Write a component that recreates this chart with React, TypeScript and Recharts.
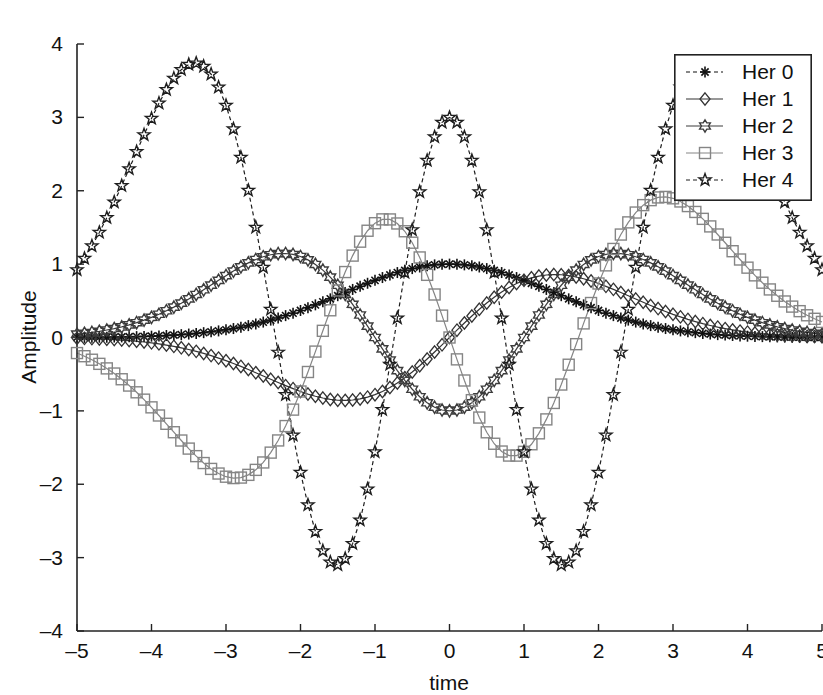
import React from 'react';
import { LineChart, Line, XAxis, YAxis, Legend } from 'recharts';

const TITLE = 'First five members of the Hermite family';
const X_LABEL = 'time';
const Y_LABEL = 'Amplitude';
const SERIES_NAMES = ['Her 0', 'Her 1', 'Her 2', 'Her 3', 'Her 4'];
const X_TICKS = [-5, -4, -3, -2, -1, 0, 1, 2, 3, 4, 5];
const Y_TICKS = [-4, -3, -2, -1, 0, 1, 2, 3, 4];

const TIME = [
  -5, -4.9, -4.8, -4.7, -4.6, -4.5, -4.4, -4.3, -4.2, -4.1,
  -4, -3.9, -3.8, -3.7, -3.6, -3.5, -3.4, -3.3, -3.2, -3.1,
  -3, -2.9, -2.8, -2.7, -2.6, -2.5, -2.4, -2.3, -2.2, -2.1,
  -2, -1.9, -1.8, -1.7, -1.6, -1.5, -1.4, -1.3, -1.2, -1.1,
  -1, -0.9, -0.8, -0.7, -0.6, -0.5, -0.4, -0.3, -0.2, -0.1,
  0,
  0.1, 0.2, 0.3, 0.4, 0.5, 0.6, 0.7, 0.8, 0.9, 1,
  1.1, 1.2, 1.3, 1.4, 1.5, 1.6, 1.7, 1.8, 1.9, 2,
  2.1, 2.2, 2.3, 2.4, 2.5, 2.6, 2.7, 2.8, 2.9, 3,
  3.1, 3.2, 3.3, 3.4, 3.5, 3.6, 3.7, 3.8, 3.9, 4,
  4.1, 4.2, 4.3, 4.4, 4.5, 4.6, 4.7, 4.8, 4.9, 5,
];

const HER0 = [
  0.002, 0.002, 0.003, 0.004, 0.005, 0.006, 0.008, 0.010, 0.012, 0.015,
  0.018, 0.022, 0.027, 0.033, 0.039, 0.047, 0.056, 0.066, 0.077, 0.090,
  0.105, 0.122, 0.141, 0.162, 0.185, 0.210, 0.237, 0.266, 0.298, 0.332,
  0.368, 0.406, 0.445, 0.486, 0.527, 0.570, 0.613, 0.655, 0.698, 0.739,
  0.779, 0.817, 0.852, 0.885, 0.914, 0.939, 0.961, 0.978, 0.990, 0.998,
  1.000,
  0.998, 0.990, 0.978, 0.961, 0.939, 0.914, 0.885, 0.852, 0.817, 0.779,
  0.739, 0.698, 0.655, 0.613, 0.570, 0.527, 0.486, 0.445, 0.406, 0.368,
  0.332, 0.298, 0.266, 0.237, 0.210, 0.185, 0.162, 0.141, 0.122, 0.105,
  0.090, 0.077, 0.066, 0.056, 0.047, 0.039, 0.033, 0.027, 0.022, 0.018,
  0.015, 0.012, 0.010, 0.008, 0.006, 0.005, 0.004, 0.003, 0.002, 0.002,
];

const HER1 = [
  -0.010, -0.012, -0.015, -0.019, -0.023, -0.028, -0.035, -0.042, -0.051, -0.061,
  -0.073, -0.087, -0.103, -0.121, -0.141, -0.164, -0.189, -0.217, -0.247, -0.281,
  -0.316, -0.354, -0.394, -0.436, -0.480, -0.524, -0.569, -0.613, -0.656, -0.697,
  -0.736, -0.771, -0.801, -0.825, -0.844, -0.855, -0.858, -0.852, -0.837, -0.813,
  -0.779, -0.735, -0.682, -0.619, -0.548, -0.470, -0.384, -0.293, -0.198, -0.100,
  0.000,
  0.100, 0.198, 0.293, 0.384, 0.470, 0.548, 0.619, 0.682, 0.735, 0.779,
  0.813, 0.837, 0.852, 0.858, 0.855, 0.844, 0.825, 0.801, 0.771, 0.736,
  0.697, 0.656, 0.613, 0.569, 0.524, 0.480, 0.436, 0.394, 0.354, 0.316,
  0.281, 0.247, 0.217, 0.189, 0.164, 0.141, 0.121, 0.103, 0.087, 0.073,
  0.061, 0.051, 0.042, 0.035, 0.028, 0.023, 0.019, 0.015, 0.012, 0.010,
];

const HER2 = [
  0.046, 0.057, 0.069, 0.084, 0.102, 0.122, 0.145, 0.172, 0.202, 0.237,
  0.275, 0.317, 0.364, 0.414, 0.468, 0.526, 0.587, 0.650, 0.714, 0.779,
  0.843, 0.905, 0.963, 1.017, 1.063, 1.100, 1.128, 1.143, 1.145, 1.132,
  1.104, 1.058, 0.996, 0.918, 0.823, 0.712, 0.588, 0.452, 0.307, 0.155,
  0.000, -0.155, -0.307, -0.451, -0.585, -0.705, -0.807, -0.890, -0.950, -0.988,
  -1.000,
  -0.988, -0.950, -0.890, -0.807, -0.705, -0.585, -0.451, -0.307, -0.155, 0.000,
  0.155, 0.307, 0.452, 0.588, 0.712, 0.823, 0.918, 0.996, 1.058, 1.104,
  1.132, 1.145, 1.143, 1.128, 1.100, 1.063, 1.017, 0.963, 0.905, 0.843,
  0.779, 0.714, 0.650, 0.587, 0.526, 0.468, 0.414, 0.364, 0.317, 0.275,
  0.237, 0.202, 0.172, 0.145, 0.122, 0.102, 0.084, 0.069, 0.057, 0.046,
];

const HER3 = [
  -0.212, -0.255, -0.303, -0.359, -0.421, -0.491, -0.569, -0.655, -0.747, -0.847,
  -0.952, -1.063, -1.176, -1.291, -1.404, -1.514, -1.617, -1.711, -1.791, -1.854,
  -1.897, -1.916, -1.909, -1.872, -1.804, -1.703, -1.569, -1.403, -1.207, -0.983,
  -0.736, -0.470, -0.192, 0.091, 0.371, 0.641, 0.892, 1.116, 1.306, 1.455,
  1.558, 1.610, 1.609, 1.554, 1.448, 1.292, 1.091, 0.854, 0.586, 0.298,
  0.000,
  -0.298, -0.586, -0.854, -1.091, -1.292, -1.448, -1.554, -1.609, -1.610, -1.558,
  -1.455, -1.306, -1.116, -0.892, -0.641, -0.371, -0.091, 0.192, 0.470, 0.736,
  0.983, 1.207, 1.403, 1.569, 1.703, 1.804, 1.872, 1.909, 1.916, 1.897,
  1.854, 1.791, 1.711, 1.617, 1.514, 1.404, 1.291, 1.176, 1.063, 0.952,
  0.847, 0.747, 0.655, 0.569, 0.491, 0.421, 0.359, 0.303, 0.255, 0.212,
];

const HER4 = [
  0.923, 1.077, 1.247, 1.432, 1.632, 1.846, 2.069, 2.299, 2.532, 2.763,
  2.985, 3.193, 3.378, 3.533, 3.650, 3.721, 3.739, 3.696, 3.588, 3.411,
  3.162, 2.842, 2.455, 2.005, 1.502, 0.956, 0.383, -0.201, -0.780, -1.332,
  -1.839, -2.282, -2.644, -2.907, -3.062, -3.098, -3.013, -2.808, -2.488, -2.066,
  -1.558, -0.983, -0.367, 0.265, 0.886, 1.468, 1.985, 2.413, 2.734, 2.933,
  3.000,
  2.933, 2.734, 2.413, 1.985, 1.468, 0.886, 0.265, -0.367, -0.983, -1.558,
  -2.066, -2.488, -2.808, -3.013, -3.098, -3.062, -2.907, -2.644, -2.282, -1.839,
  -1.332, -0.780, -0.201, 0.383, 0.956, 1.502, 2.005, 2.455, 2.842, 3.162,
  3.411, 3.588, 3.696, 3.739, 3.721, 3.650, 3.533, 3.378, 3.193, 2.985,
  2.763, 2.532, 2.299, 2.069, 1.846, 1.632, 1.432, 1.247, 1.077, 0.923,
];

const data = TIME.map((t, i) => ({
  t,
  h0: HER0[i],
  h1: HER1[i],
  h2: HER2[i],
  h3: HER3[i],
  h4: HER4[i],
}));

const FONT = '"Liberation Sans", Arial, Helvetica, sans-serif';
const AXIS_COLOR = '#222222';
const TICK_FONT = 21;

type Shape = 'asterisk' | 'diamond' | 'hexagram' | 'square' | 'pentagram';

const STYLES: { key: string; shape: Shape; color: string; dash?: string; mw: number }[] = [
  { key: 'h0', shape: 'asterisk', color: '#111111', dash: '4 3', mw: 1.6 },
  { key: 'h1', shape: 'diamond', color: '#333333', mw: 1.3 },
  { key: 'h2', shape: 'hexagram', color: '#3c3c3c', mw: 1.4 },
  { key: 'h3', shape: 'square', color: '#858585', mw: 1.4 },
  { key: 'h4', shape: 'pentagram', color: '#1e1e1e', dash: '4 3', mw: 1.4 },
];

function starPoints(cx: number, cy: number, n: number, ro: number, ri: number) {
  const pts: string[] = [];
  for (let k = 0; k < n * 2; k++) {
    const r = k % 2 === 0 ? ro : ri;
    const a = -Math.PI / 2 + (k * Math.PI) / n;
    pts.push(`${(cx + r * Math.cos(a)).toFixed(2)},${(cy + r * Math.sin(a)).toFixed(2)}`);
  }
  return pts.join(' ');
}

function Marker({ shape, cx, cy, color, w }: { shape: Shape; cx: number; cy: number; color: string; w: number }) {
  const common = { fill: 'none', stroke: color, strokeWidth: w };
  switch (shape) {
    case 'asterisk':
      return (
        <g stroke={color} strokeWidth={w}>
          <line x1={cx - 5} y1={cy} x2={cx + 5} y2={cy} />
          <line x1={cx} y1={cy - 5.5} x2={cx} y2={cy + 5.5} />
          <line x1={cx - 3.6} y1={cy - 3.6} x2={cx + 3.6} y2={cy + 3.6} />
          <line x1={cx - 3.6} y1={cy + 3.6} x2={cx + 3.6} y2={cy - 3.6} />
        </g>
      );
    case 'diamond':
      return <polygon {...common} points={`${cx},${cy - 6.2} ${cx + 5},${cy} ${cx},${cy + 6.2} ${cx - 5},${cy}`} />;
    case 'hexagram':
      return <polygon {...common} points={starPoints(cx, cy, 6, 6.2, 3.6)} />;
    case 'square':
      return <rect {...common} x={cx - 5.5} y={cy - 5.5} width={11} height={11} />;
    case 'pentagram':
    default:
      return <polygon {...common} points={starPoints(cx, cy, 5, 6.4, 2.6)} />;
  }
}

function makeDot(shape: Shape, color: string, w: number) {
  return (props: any) => {
    const { cx, cy, index } = props;
    if (cx == null || cy == null) return <g key={`e-${index}`} />;
    return (
      <g key={`m-${shape}-${index}`}>
        <Marker shape={shape} cx={cx} cy={cy} color={color} w={w} />
      </g>
    );
  };
}

const fmt = (v: number) => (v < 0 ? '\u2013' + Math.abs(v) : String(v));

function BottomTick(props: any) {
  const { x, y, payload } = props;
  return (
    <g>
      <line x1={x} y1={y} x2={x} y2={y - 7} stroke={AXIS_COLOR} strokeWidth={1.4} />
      <text x={x} y={y + 27} textAnchor="middle" fontSize={TICK_FONT} fontFamily={FONT} fill="#111">
        {fmt(payload.value)}
      </text>
    </g>
  );
}

function TopTick(props: any) {
  const { x, y } = props;
  return <line x1={x} y1={y} x2={x} y2={y + 7} stroke={AXIS_COLOR} strokeWidth={1.4} />;
}

function LeftTick(props: any) {
  const { x, y, payload } = props;
  return (
    <g>
      <line x1={x} y1={y} x2={x + 7} y2={y} stroke={AXIS_COLOR} strokeWidth={1.4} />
      <text x={x - 14} y={y + 7} textAnchor="end" fontSize={TICK_FONT} fontFamily={FONT} fill="#111">
        {fmt(payload.value)}
      </text>
    </g>
  );
}

function RightTick(props: any) {
  const { x, y } = props;
  return <line x1={x} y1={y} x2={x - 7} y2={y} stroke={AXIS_COLOR} strokeWidth={1.4} />;
}

function LegendBox() {
  const rowH = 27;
  return (
    <svg width={138} height={147} style={{ display: 'block' }}>
      <rect x={0.8} y={0.8} width={136.4} height={145.4} fill="#fff" stroke={AXIS_COLOR} strokeWidth={1.6} />
      {STYLES.map((s, i) => {
        const cy = 18 + i * rowH;
        return (
          <g key={s.key}>
            <line x1={12} y1={cy} x2={49} y2={cy} stroke={s.color} strokeWidth={1.2} strokeDasharray={s.dash} />
            <Marker shape={s.shape} cx={31} cy={cy} color={s.color} w={s.mw} />
            <text x={68} y={cy + 7} fontSize={21} fontFamily={FONT} fill="#111">
              {SERIES_NAMES[i]}
            </text>
          </g>
        );
      })}
    </svg>
  );
}

export default function App() {
  return (
    <div style={{ position: 'absolute', left: 0, top: 0, background: '#fff' }}>
      <LineChart
        width={823}
        height={695}
        data={data}
        margin={{ top: 44, right: 1, bottom: 0, left: 0 }}
      >
        <XAxis
          xAxisId="b"
          dataKey="t"
          type="number"
          domain={[-5, 5]}
          ticks={X_TICKS}
          height={64}
          tickSize={0}
          tickMargin={0}
          tickLine={false}
          tick={<BottomTick />}
          axisLine={{ stroke: AXIS_COLOR, strokeWidth: 1.6 }}
          interval={0}
          label={() => (
            <text x={449} y={690} textAnchor="middle" fontSize={21} fontFamily={FONT} fill="#111">
              {X_LABEL}
            </text>
          )}
        />
        <XAxis
          xAxisId="top"
          orientation="top"
          dataKey="t"
          type="number"
          domain={[-5, 5]}
          ticks={X_TICKS}
          height={0}
          tickSize={0}
          tickMargin={0}
          tickLine={false}
          tick={<TopTick />}
          axisLine={{ stroke: AXIS_COLOR, strokeWidth: 1.6 }}
          interval={0}
          label={() => (
            <text x={442} y={23} textAnchor="middle" fontSize={21} fontFamily={FONT} fill="#111">
              {TITLE}
            </text>
          )}
        />
        <YAxis
          yAxisId="l"
          type="number"
          domain={[-4, 4]}
          ticks={Y_TICKS}
          width={77}
          tickSize={0}
          tickMargin={0}
          tickLine={false}
          tick={<LeftTick />}
          axisLine={{ stroke: AXIS_COLOR, strokeWidth: 1.6 }}
          interval={0}
          label={() => (
            <text
              x={28}
              y={337}
              transform="rotate(-90 28 337)"
              textAnchor="middle"
              dominantBaseline="central"
              fontSize={21}
              fontFamily={FONT}
              fill="#111"
            >
              {Y_LABEL}
            </text>
          )}
        />
        <YAxis
          yAxisId="r"
          orientation="right"
          type="number"
          domain={[-4, 4]}
          ticks={Y_TICKS}
          width={0}
          tickSize={0}
          tickMargin={0}
          tickLine={false}
          tick={<RightTick />}
          axisLine={{ stroke: AXIS_COLOR, strokeWidth: 1.6 }}
          interval={0}
        />
        {STYLES.map((s, i) => (
          <Line
            key={s.key}
            xAxisId="b"
            yAxisId="l"
            type="linear"
            dataKey={s.key}
            name={SERIES_NAMES[i]}
            stroke={s.color}
            strokeWidth={1.2}
            strokeDasharray={s.dash}
            dot={makeDot(s.shape, s.color, s.mw)}
            activeDot={false}
            isAnimationActive={false}
          />
        ))}
        <Legend
          layout="vertical"
          align="center"
          verticalAlign="middle"
          wrapperStyle={{ left: 674, top: 54, width: 138, height: 147 }}
          content={() => <LegendBox />}
        />
      </LineChart>
    </div>
  );
}
